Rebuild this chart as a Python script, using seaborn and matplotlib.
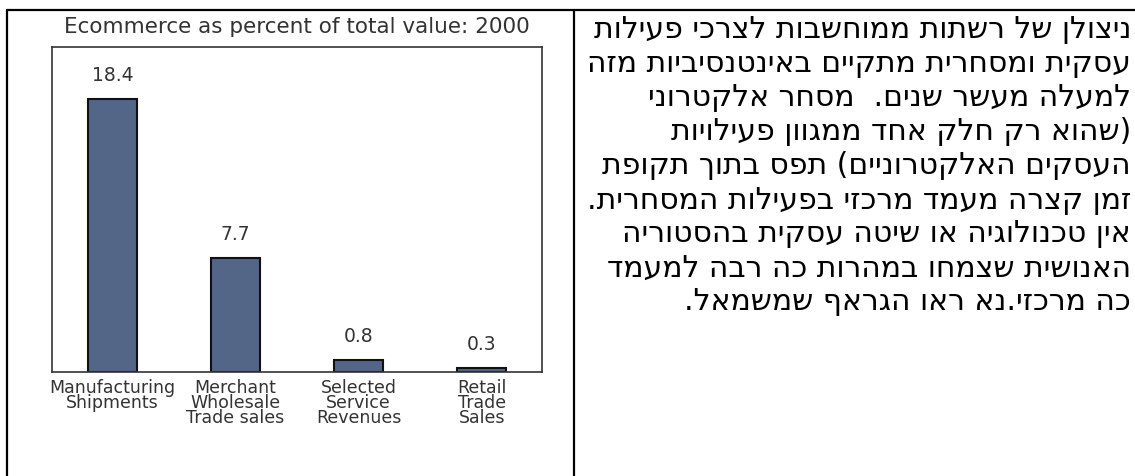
import matplotlib
matplotlib.use('Agg')
import matplotlib.pyplot as plt
from matplotlib.lines import Line2D
import seaborn as sns

# Chart data
categories = ['Manufacturing\nShipments', 'Merchant\nWholesale\nTrade sales',
              'Selected\nService\nRevenues', 'Retail\nTrade\nSales']
values = [18.4, 7.7, 0.8, 0.3]
value_labels = ['18.4', '7.7', '0.8', '0.3']
title = 'Ecommerce as percent of total value: 2000'

# Hebrew paragraph, one entry per line (logical order)
hebrew_lines = [
    'ניצולן של רשתות ממוחשבות לצרכי פעילות',
    'עסקית ומסחרית מתקיים באינטנסיביות מזה',
    'למעלה מעשר שנים.  מסחר אלקטרוני',
    '(שהוא רק חלק אחד ממגוון פעילויות',
    'העסקים האלקטרוניים) תפס בתוך תקופת',
    'זמן קצרה מעמד מרכזי בפעילות המסחרית.',
    'אין טכנולוגיה או שיטה עסקית בהסטוריה',
    'האנושית שצמחו במהרות כה רבה למעמד',
    'כה מרכזי.נא ראו הגראף שמשמאל.',
]

sns.set_style('white')
plt.rcParams['font.family'] = ['DejaVu Sans']

W, H = 1135, 476
fig = plt.figure(figsize=(W / 100, H / 100), dpi=100)

# Bar chart in the left cell
ax = fig.add_axes([52 / W, 1 - 372 / H, 490 / W, 325 / H])
sns.barplot(x=categories, y=values, color='#4a6391', edgecolor='#111111',
            linewidth=1.5, width=0.4, ax=ax)
ax.set_xlim(-0.49, 3.49)
ax.set_ylim(0, 21.9)
ax.set_yticks([])
ax.set_xlabel('')
ax.set_ylabel('')
ax.tick_params(axis='x', length=0, pad=5, labelsize=12.5, labelcolor='#333333')
for sp in ax.spines.values():
    sp.set_visible(True)
    sp.set_color('#333333')
    sp.set_linewidth(1.2)
for lbl in ax.get_xticklabels():
    lbl.set_linespacing(0.8)
ax.bar_label(ax.containers[0], labels=value_labels, padding=10,
             fontsize=13.5, color='#333333')
ax.set_title(title, fontsize=15.5, color='#333333', pad=10)

# Hebrew text in the right cell (reverse for right-to-left display)
swap = str.maketrans('()', ')(')
for i, line in enumerate(hebrew_lines):
    fig.text(1131 / W, 1 - (30 + 34 * i) / H, line[::-1].translate(swap),
             ha='right', va='center', fontsize=21.5, color='black')

# Table borders
lw = 1.6
fig.add_artist(Line2D([7 / W, 1], [1 - 10 / H, 1 - 10 / H], color='black', lw=lw))
fig.add_artist(Line2D([7 / W, 7 / W], [0, 1 - 10 / H], color='black', lw=lw))
fig.add_artist(Line2D([574 / W, 574 / W], [0, 1 - 10 / H], color='black', lw=lw))

fig.savefig('out.png', dpi=100)
